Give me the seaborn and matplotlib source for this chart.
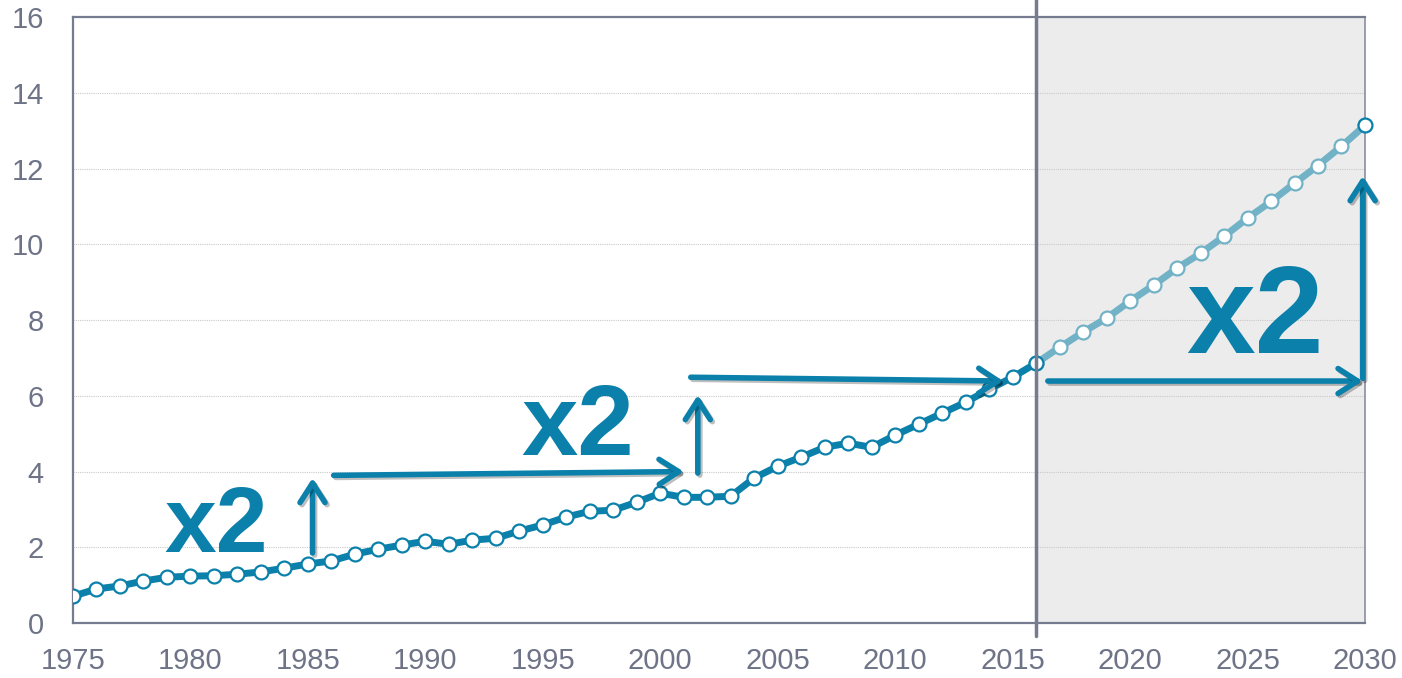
import matplotlib
matplotlib.use("Agg")
import matplotlib.pyplot as plt
import matplotlib.patheffects as pe
import seaborn as sns
import pandas as pd

TEAL = "#0a80aa"
TEAL_LIGHT = "#72b2c7"
AXIS_GREY = "#767b8f"
TICK_GREY = "#6e7387"
SHADE = "#ececec"

# historical series (1975-2016)
years_hist = list(range(1975, 2017))
values_hist = [0.71, 0.90, 0.98, 1.11, 1.21, 1.24, 1.25, 1.29, 1.35, 1.45,
               1.56, 1.64, 1.82, 1.95, 2.06, 2.16, 2.08, 2.19, 2.24, 2.43,
               2.59, 2.80, 2.95, 2.98, 3.19, 3.43, 3.32, 3.32, 3.35, 3.83,
               4.14, 4.38, 4.64, 4.75, 4.64, 4.96, 5.25, 5.54, 5.83, 6.17,
               6.49, 6.86]

# projection (2016-2030)
years_proj = list(range(2016, 2031))
values_proj = [6.86, 7.28, 7.68, 8.05, 8.50, 8.92, 9.37, 9.76, 10.21, 10.69,
               11.13, 11.61, 12.08, 12.59, 13.14]

x_ticks = [1975, 1980, 1985, 1990, 1995, 2000, 2005, 2010, 2015, 2020, 2025, 2030]
y_ticks = [0, 2, 4, 6, 8, 10, 12, 14, 16]

# "x2" arrows: (x0, y0, x1, y1)
arrows = [
    (1985.2, 1.85, 1985.2, 3.83),
    (1986.1, 3.90, 2001.0, 4.00),
    (2001.6, 3.96, 2001.6, 6.02),
    (2001.3, 6.49, 2014.6, 6.39),
    (2016.5, 6.39, 2029.9, 6.39),
    (2029.9, 6.46, 2029.9, 11.80),
]
# "x2" labels: (x, baseline y, size)
labels = [(1981.1, 1.88, 67), (1996.5, 4.43, 73), (2025.3, 7.12, 89)]

sns.set_style("white")
plt.rcParams["font.family"] = ["Liberation Sans", "DejaVu Sans"]

hist = pd.DataFrame({"year": years_hist, "value": values_hist})
proj = pd.DataFrame({"year": years_proj, "value": values_proj})

fig = plt.figure(figsize=(14.02, 6.78), dpi=100)
ax = fig.add_axes([0.052, 0.081, 0.9216, 0.8939])

ax.axvspan(2016, 2030, color=SHADE, zorder=0)
for y in y_ticks[1:-1]:
    ax.axhline(y, color="#c9c9c9", lw=0.8, ls=(0, (1, 1)), zorder=1)

marker_kw = dict(marker="o", markersize=10, markerfacecolor="white",
                 markeredgewidth=1.6, linewidth=5)
sns.lineplot(data=proj, x="year", y="value", ax=ax, color=TEAL_LIGHT,
             markeredgecolor=TEAL_LIGHT, zorder=3, **marker_kw)
sns.lineplot(data=hist, x="year", y="value", ax=ax, color=TEAL,
             markeredgecolor=TEAL, zorder=4, **marker_kw)
# last projected point has a dark edge in the reference
ax.plot(years_proj[-1], values_proj[-1], "o", ms=10, mfc="white",
        mec=TEAL, mew=1.6, zorder=6, clip_on=False)

ax.axvline(2016, ymin=-0.022, ymax=1.03, color=AXIS_GREY, lw=2.5,
           zorder=5, clip_on=False)

shadow = [pe.SimpleLineShadow(offset=(1.5, -1.5), alpha=0.25), pe.Normal()]
for x0, y0, x1, y1 in arrows:
    ax.annotate("", xy=(x1, y1), xytext=(x0, y0),
                arrowprops=dict(arrowstyle="->,head_length=0.7,head_width=0.45",
                                color=TEAL, lw=4, shrinkA=0, shrinkB=0,
                                mutation_scale=20, path_effects=shadow),
                zorder=7)

for x, y, size in labels:
    ax.text(x, y, "x2", fontsize=size, fontweight="bold", color=TEAL,
            ha="center", va="baseline", zorder=8)

ax.set_xlim(1975, 2030)
ax.set_ylim(0, 16)
ax.set_xticks(x_ticks)
ax.set_yticks(y_ticks)
ax.set_xlabel("")
ax.set_ylabel("")
ax.tick_params(axis="both", labelsize=21, labelcolor=TICK_GREY, color=AXIS_GREY,
               direction="out")
ax.tick_params(axis="x", length=6, width=1.2, pad=11)
ax.tick_params(axis="y", length=7, width=1.5, pad=14)

for side in ["left", "bottom", "top"]:
    ax.spines[side].set_color(AXIS_GREY)
    ax.spines[side].set_linewidth(1.6)
ax.spines["right"].set_color("#8a8fa0")
ax.spines["right"].set_linewidth(1.2)

fig.savefig("out.png", dpi=100)
